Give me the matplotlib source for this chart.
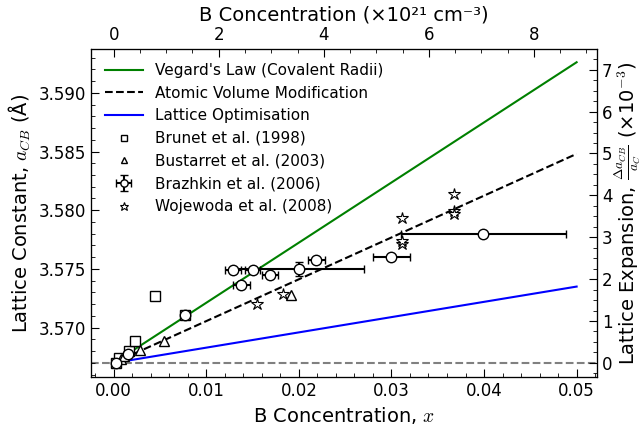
import numpy as np
import matplotlib
matplotlib.use("Agg")
import matplotlib.pyplot as plt

plt.rcParams['font.family'] = ['DejaVu Sans']
plt.rcParams['mathtext.fontset'] = 'cm'

A_C = 3.567            # diamond lattice constant (Å)
N_C = 8 / (A_C * 1e-8) ** 3 / 1e21   # atom density in 1e21 cm^-3

# Model lines (x from 0 to 0.05)
model_x = [0.0, 0.05]
vegard_y = [3.5670, 3.5926]
atomic_y = [3.5670, 3.5848]
optim_y = [3.5670, 3.5735]

# Experimental data
brunet_x = [0.0003, 0.0006, 0.0017, 0.0023, 0.0045, 0.0077]
brunet_y = [3.5670, 3.5674, 3.5680, 3.5689, 3.5727, 3.5711]

bustarret_x = [0.0008, 0.0011, 0.0028, 0.0054, 0.0192]
bustarret_y = [3.5673, 3.5676, 3.5681, 3.5689, 3.5728]

brazhkin_x = [0.0003, 0.0016, 0.0077, 0.0129, 0.0138, 0.0150, 0.0169, 0.0200, 0.0219, 0.0300, 0.0399]
brazhkin_y = [3.5670, 3.5678, 3.5711, 3.5749, 3.5736, 3.5749, 3.5745, 3.5750, 3.5758, 3.5760, 3.5780]
brazhkin_xerr = [0.0, 0.0, 0.0, 0.0009, 0.0009, 0.0008, 0.0009, 0.0070, 0.0009, 0.0020, 0.0089]
brazhkin_yerr = [0.0, 0.0, 0.0, 0.0, 0.0, 0.0, 0.0, 0.0006, 0.0, 0.0, 0.0]

wojewoda_x = [0.0155, 0.0183, 0.0311, 0.0311, 0.0311, 0.0368, 0.0368, 0.0368]
wojewoda_y = [3.5720, 3.5729, 3.5793, 3.5771, 3.5774, 3.5814, 3.5799, 3.5797]

top_ticks = [0, 2, 4, 6, 8]
right_ticks = [0, 1, 2, 3, 4, 5, 6, 7]

fig = plt.figure(figsize=(6.44, 4.26), dpi=100)
ax = fig.add_axes([0.1413, 0.115, 0.7857, 0.7692])

xlim = (-0.00245, 0.0522)
ylim = (3.5658, 3.5937)

ax.axhline(A_C, color='gray', ls='--', lw=1.5, zorder=1)
h1, = ax.plot(model_x, vegard_y, color='green', lw=1.5, label="Vegard's Law (Covalent Radii)", zorder=2)
h2, = ax.plot(model_x, atomic_y, color='black', ls='--', lw=1.5, label='Atomic Volume Modification', zorder=2)
h3, = ax.plot(model_x, optim_y, color='blue', lw=1.5, label='Lattice Optimisation', zorder=2)

h4, = ax.plot(brunet_x, brunet_y, ls='none', marker='s', ms=6.5, mfc='white', mec='black', mew=1.0,
              label='Brunet et al. (1998)', zorder=3)
h5, = ax.plot(bustarret_x, bustarret_y, ls='none', marker='^', ms=7, mfc='white', mec='black', mew=1.0,
              label='Bustarret et al. (2003)', zorder=3)
h6 = ax.errorbar(brazhkin_x, brazhkin_y, xerr=brazhkin_xerr, yerr=brazhkin_yerr, ls='none', marker='o',
                 ms=7.5, mfc='white', mec='black', mew=1.0, ecolor='black', elinewidth=1.5, capsize=3,
                 capthick=1.5, label='Brazhkin et al. (2006)', zorder=4)
h7, = ax.plot(wojewoda_x, wojewoda_y, ls='none', marker='*', ms=9, mfc='white', mec='black', mew=0.8,
              label='Wojewoda et al. (2008)', zorder=3)

ax.set_xlim(xlim)
ax.set_ylim(ylim)
ax.set_xticks([0.00, 0.01, 0.02, 0.03, 0.04, 0.05])
ax.set_yticks([3.570, 3.575, 3.580, 3.585, 3.590])
ax.xaxis.set_minor_locator(matplotlib.ticker.MultipleLocator(0.002))
ax.yaxis.set_minor_locator(matplotlib.ticker.MultipleLocator(0.001))
ax.xaxis.set_major_formatter(matplotlib.ticker.FormatStrFormatter('%.2f'))
ax.yaxis.set_major_formatter(matplotlib.ticker.FormatStrFormatter('%.3f'))
ax.tick_params(which='both', direction='in', labelsize=12)
ax.tick_params(which='major', length=6)
ax.tick_params(which='minor', length=3)
ax.set_xlabel('B Concentration, $x$', fontsize=14)
ax.set_ylabel('Lattice Constant, $a_{CB}$ (Å)', fontsize=14)

# top axis
axt = ax.twiny()
axt.set_xlim(xlim[0] * N_C, xlim[1] * N_C)
axt.set_xticks(top_ticks)
axt.xaxis.set_minor_locator(matplotlib.ticker.MultipleLocator(0.5))
axt.tick_params(which='both', direction='in', labelsize=12)
axt.tick_params(which='major', length=6)
axt.tick_params(which='minor', length=3)
axt.set_xlabel('B Concentration (×10²¹ cm⁻³)', fontsize=14)

# right axis
axr = ax.twinx()
axr.set_ylim((ylim[0] / A_C - 1) * 1e3, (ylim[1] / A_C - 1) * 1e3)
axr.set_yticks(right_ticks)
axr.yaxis.set_minor_locator(matplotlib.ticker.MultipleLocator(0.25))
axr.tick_params(which='both', direction='in', labelsize=12)
axr.tick_params(which='major', length=6)
axr.tick_params(which='minor', length=3)
axr.set_ylabel('Lattice Expansion, $\\frac{\\Delta a_{CB}}{a_C}$ (×10$^{-3}$)', fontsize=14, labelpad=0)

ax.legend([h1, h2, h3, h4, h5, h6, h7],
          [h.get_label() for h in [h1, h2, h3, h4, h5]] + ['Brazhkin et al. (2006)', 'Wojewoda et al. (2008)'],
          loc='upper left', frameon=False, fontsize=11, numpoints=1, handlelength=2.5, markerscale=0.7)

fig.savefig('out.png', dpi=100)
